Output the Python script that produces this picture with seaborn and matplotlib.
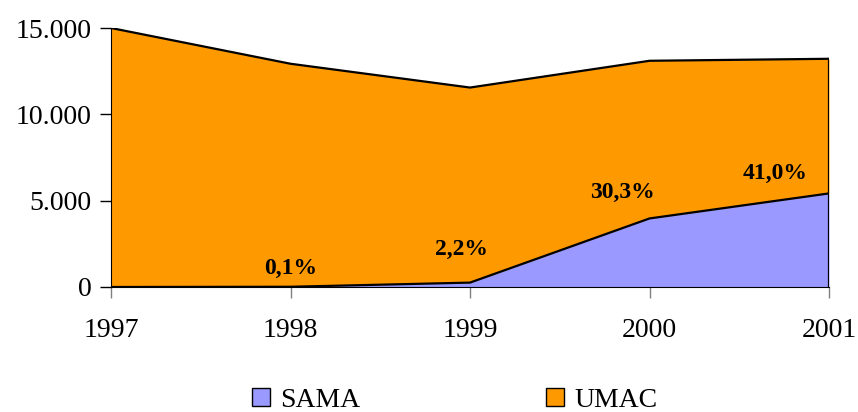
import matplotlib
matplotlib.use("Agg")
import matplotlib.pyplot as plt
import matplotlib.patches as mpatches
import numpy as np
import seaborn as sns

years = [1997, 1998, 1999, 2000, 2001]
sama = [0, 13, 254, 3970, 5420]
umac = [15000, 12917, 11298, 9132, 7798]
pct_labels = ["", "0,1%", "2,2%", "30,3%", "41,0%"]
label_offsets = [0, 0, -0.05, -0.15, -0.3]
label_heights = [0, 1050, 2200, 5450, 6550]

sns.set_style("ticks")
plt.rcParams["font.family"] = ["Liberation Serif", "DejaVu Serif"]
plt.rcParams["text.color"] = "black"
plt.rcParams["axes.labelcolor"] = "black"

sama_col = "#9999FF"
umac_col = "#FF9900"

fig = plt.figure(figsize=(8.58, 4.12), dpi=100)
ax = fig.add_axes([0.1294, 0.3034, 0.8368, 0.6286])

total = np.array(sama) + np.array(umac)
ax.fill_between(years, 0, sama, color=sama_col, linewidth=0)
ax.fill_between(years, sama, total, color=umac_col, linewidth=0)
sns.lineplot(x=years, y=sama, color="black", linewidth=1.6, ax=ax)
sns.lineplot(x=years, y=total, color="black", linewidth=1.6, ax=ax)
ax.plot([years[-1], years[-1]], [0, total[-1]], color="black", linewidth=1.6)

for yr, txt, dx, h in zip(years, pct_labels, label_offsets, label_heights):
    if txt:
        ax.text(yr + dx, h, txt, ha="center", va="center",
                fontsize=17, fontweight="bold", color="black")

ax.set_xlim(1997, 2001)
ax.set_ylim(0, 15000)
ax.set_xticks(years)
ax.set_yticks([0, 5000, 10000, 15000])
ax.set_yticklabels(["0", "5.000", "10.000", "15.000"])
ax.tick_params(axis="both", labelsize=20, direction="out", length=8, width=1)
ax.tick_params(axis="x", colors="gray", labelcolor="black", pad=14)
ax.tick_params(axis="y", colors="black", labelcolor="black", pad=6)
sns.despine(ax=ax)
ax.spines["left"].set_color("black")
ax.spines["bottom"].set_color("black")

handles = [mpatches.Patch(facecolor=sama_col, edgecolor="black", label="SAMA"),
           mpatches.Patch(facecolor=umac_col, edgecolor="black", label="UMAC")]
fig.legend(handles=handles, loc="lower center", ncol=2, frameon=False,
           fontsize=20, bbox_to_anchor=(0.53, -0.062), columnspacing=6.7,
           handlelength=0.65, handleheight=0.65, handletextpad=0.35,
           labelcolor="black")

fig.savefig("out.png", dpi=100)
